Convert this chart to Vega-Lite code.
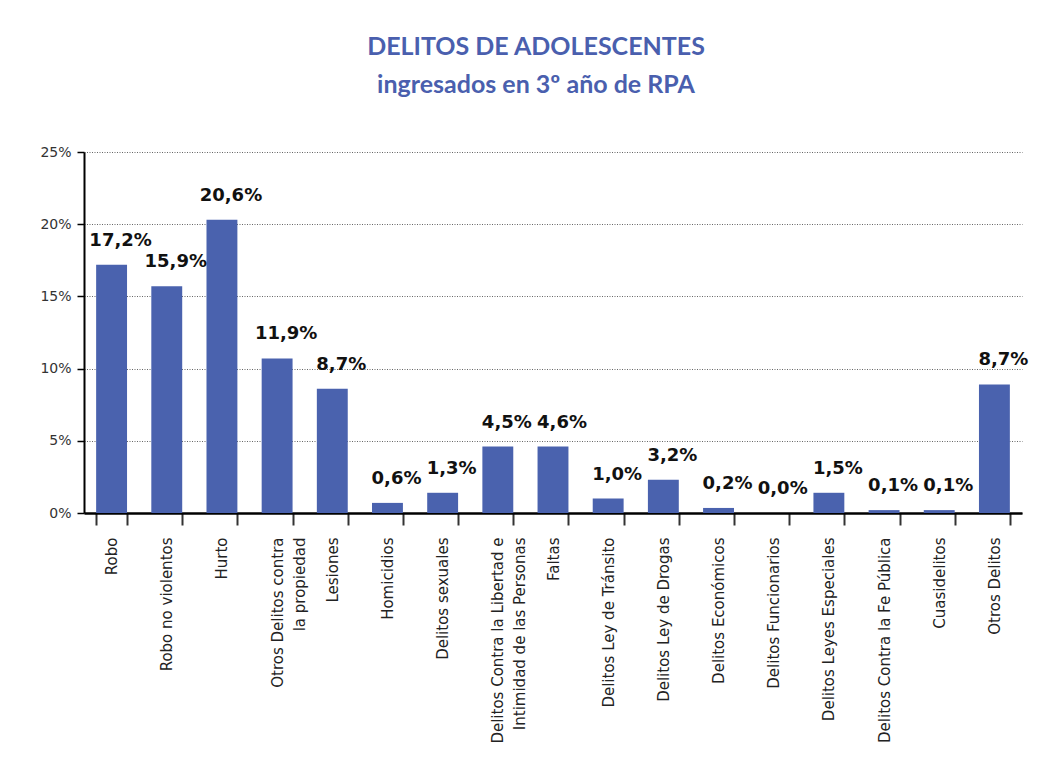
{
  "$schema": "https://vega.github.io/schema/vega-lite/v6.json",
  "width": 938,
  "height": 361,
  "autosize": {"type": "none"},
  "padding": {"left": 84, "top": 152, "right": 42, "bottom": 257},
  "background": "white",
  "title": {
    "text": ["DELITOS DE ADOLESCENTES", "ingresados en 3º año de RPA"],
    "font": "Lato",
    "fontSize": 25,
    "fontWeight": "bold",
    "color": "#4a5fae",
    "lineHeight": 38,
    "anchor": "middle",
    "frame": "group",
    "dx": -17,
    "offset": 47
  },
  "data": {
    "values": [
      {"delito": "Robo", "valor": 17.2, "etiqueta": "17,2%"},
      {"delito": "Robo no violentos", "valor": 15.7, "etiqueta": "15,9%"},
      {"delito": "Hurto", "valor": 20.3, "etiqueta": "20,6%"},
      {"delito": "Otros  Delitos contra|la propiedad", "valor": 10.7, "etiqueta": "11,9%"},
      {"delito": "Lesiones", "valor": 8.6, "etiqueta": "8,7%"},
      {"delito": "Homicidios", "valor": 0.7, "etiqueta": "0,6%"},
      {"delito": "Delitos sexuales", "valor": 1.4, "etiqueta": "1,3%"},
      {"delito": "Delitos Contra la Libertad e|Intimidad de las Personas", "valor": 4.6, "etiqueta": "4,5%"},
      {"delito": "Faltas", "valor": 4.6, "etiqueta": "4,6%"},
      {"delito": "Delitos Ley de Tránsito", "valor": 1.0, "etiqueta": "1,0%"},
      {"delito": "Delitos Ley de Drogas", "valor": 2.3, "etiqueta": "3,2%"},
      {"delito": "Delitos Económicos", "valor": 0.35, "etiqueta": "0,2%"},
      {"delito": "Delitos Funcionarios", "valor": 0.0, "etiqueta": "0,0%"},
      {"delito": "Delitos Leyes  Especiales", "valor": 1.4, "etiqueta": "1,5%"},
      {"delito": "Delitos Contra la Fe Pública", "valor": 0.2, "etiqueta": "0,1%"},
      {"delito": "Cuasidelitos", "valor": 0.2, "etiqueta": "0,1%"},
      {"delito": "Otros Delitos", "valor": 8.9, "etiqueta": "8,7%"}
    ]
  },
  "encoding": {
    "x": {
      "field": "delito",
      "type": "nominal",
      "sort": null,
      "title": null,
      "scale": {"paddingInner": 0.44, "paddingOuter": 0.22},
      "axis": {
        "labelAngle": -90,
        "labelAlign": "right",
        "labelBaseline": "middle",
        "labelFont": "DejaVu Sans",
        "labelFontSize": 15,
        "labelColor": "#222222",
        "labelPadding": 12,
        "labelLineHeight": 22,
        "labelExpr": "split(datum.label, '|')",
        "labelLimit": 400,
        "tickBand": "extent",
        "tickSize": 12,
        "tickColor": "#333333",
        "tickWidth": 2,
        "domainColor": "#000000",
        "domainWidth": 2.5,
        "grid": false
      }
    },
    "y": {
      "field": "valor",
      "type": "quantitative",
      "title": null,
      "scale": {"domain": [0, 25], "nice": false},
      "axis": {
        "values": [0, 5, 10, 15, 20, 25],
        "labelExpr": "datum.value + '%'",
        "labelFont": "DejaVu Sans",
        "labelFontSize": 14,
        "labelColor": "#333333",
        "labelPadding": 6,
        "tickSize": 7,
        "tickColor": "#000000",
        "tickWidth": 1.5,
        "domainColor": "#000000",
        "domainWidth": 2,
        "grid": true,
        "gridColor": "#666666",
        "gridDash": [1, 1.5],
        "gridWidth": 1
      }
    }
  },
  "layer": [
    {"mark": {"type": "bar", "color": "#4a62ae"}},
    {
      "mark": {
        "type": "text",
        "font": "DejaVu Sans",
        "fontSize": 18,
        "fontWeight": "bold",
        "color": "#111111",
        "baseline": "middle",
        "dy": -24,
        "dx": 9
      },
      "encoding": {"text": {"field": "etiqueta"}}
    }
  ],
  "config": {
    "view": {"stroke": null},
    "axisY": {"gridOpacity": 1}
  }
}
